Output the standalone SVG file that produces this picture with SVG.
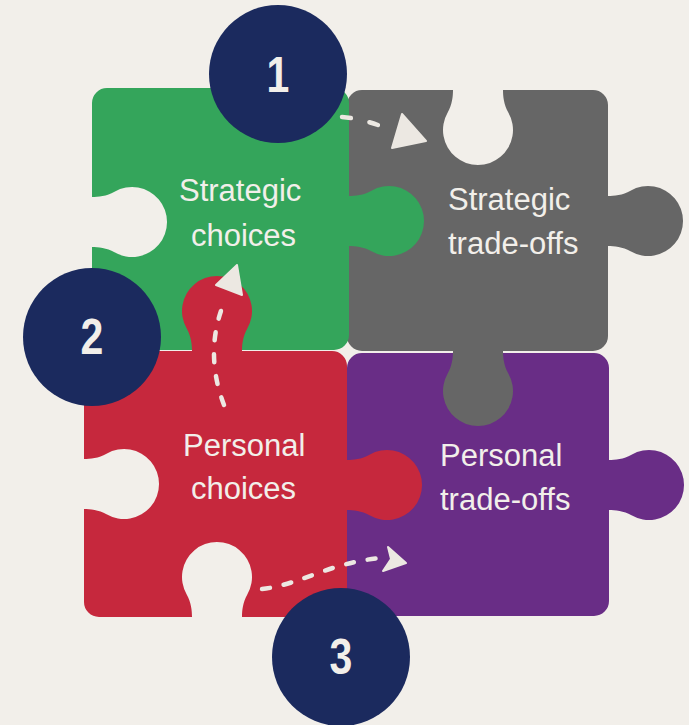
<svg xmlns="http://www.w3.org/2000/svg" width="689" height="725" viewBox="0 0 689 725">
<style>
.piece{stroke:none}
.lbl{font-family:"Liberation Sans",Arial,sans-serif;font-size:31px;fill:#f2efea}
.badge{fill:#1b2a5e}
.num{font-family:"Liberation Sans",Arial,sans-serif;font-weight:bold;font-size:50px;fill:#f2efea;text-anchor:middle}
.dash{fill:none;stroke:#ece8e2;stroke-width:4.5;stroke-linecap:round;stroke-dasharray:8 14}
.head{fill:#ece8e2;stroke:#ece8e2;stroke-width:2;stroke-linejoin:round}
</style>
<rect width="689" height="725" fill="#f2efea"/>
<g id="personal-tradeoffs">
<path class="piece" fill="#692d86" d="M362,353 H594 A15,15 0 0 1 609,368 V460 C615,460 623.7,459.2 631.5,454.7 A35,35 0 1 1 631.5,515.3 C623.7,510.8 615,510 609,510 V601 A15,15 0 0 1 594,616 H362 A15,15 0 0 1 347,601 V368 A15,15 0 0 1 362,353 Z"/>
<text class="lbl" x="440" y="466">Personal</text>
<text class="lbl" x="440" y="510">trade-offs</text>
</g>
<g id="strategic-tradeoffs">
<path class="piece" fill="#666666" d="M362,90 H453 C453,96 452.2,104.7 447.7,112.5 A35,35 0 1 0 508.3,112.5 C503.8,104.7 503,96 503,90 H593 A15,15 0 0 1 608,105 V196 C614,196 622.7,195.2 630.5,190.7 A35,35 0 1 1 630.5,251.3 C622.7,246.8 614,246 608,246 V336 A15,15 0 0 1 593,351 H503 C503,357 503.8,365.7 508.3,373.5 A35,35 0 1 1 447.7,373.5 C452.2,365.7 453,357 453,351 H362 A15,15 0 0 1 347,336 V105 A15,15 0 0 1 362,90 Z"/>
<text class="lbl" x="448" y="210">Strategic</text>
<text class="lbl" x="448" y="254">trade-offs</text>
</g>
<g id="strategic-choices">
<path class="piece" fill="#34a55b" d="M107,88 H334 A15,15 0 0 1 349,103 V196 C355,196 363.7,195.2 371.5,190.7 A35,35 0 1 1 371.5,251.3 C363.7,246.8 355,246 349,246 V335 A15,15 0 0 1 334,350 H107 A15,15 0 0 1 92,335 V247 C98,247 106.7,247.8 114.5,252.3 A35,35 0 1 0 114.5,191.7 C106.7,196.2 98,197 92,197 V103 A15,15 0 0 1 107,88 Z"/>
<text class="lbl" x="179" y="201">Strategic</text>
<text class="lbl" x="191" y="246">choices</text>
</g>
<g id="personal-choices">
<path class="piece" fill="#c6283d" d="M99,351 H192 C192,345 191.2,336.3 186.7,328.5 A35,35 0 1 1 247.3,328.5 C242.8,336.3 242,345 242,351 H332 A15,15 0 0 1 347,366 V460 C353,460 361.7,459.2 369.5,454.7 A35,35 0 1 1 369.5,515.3 C361.7,510.8 353,510 347,510 V602 A15,15 0 0 1 332,617 H242 C242,611 242.8,602.3 247.3,594.5 A35,35 0 1 0 186.7,594.5 C191.2,602.3 192,611 192,617 H99 A15,15 0 0 1 84,602 V509 C90,509 98.7,509.8 106.5,514.3 A35,35 0 1 0 106.5,453.7 C98.7,458.2 90,459 84,459 V366 A15,15 0 0 1 99,351 Z"/>
<text class="lbl" x="183" y="456">Personal</text>
<text class="lbl" x="191" y="499">choices</text>
</g>
<g id="connectors">
<path class="dash" style="stroke-dasharray:9 19" d="M342,117 Q365,119 388,129"/>
<polygon class="head" points="402,114 426,141 392,148"/>
<path class="dash" d="M224,405 Q203,350 226,298"/>
<polygon class="head" points="237,265 216,285 242,295"/>
<path class="dash" d="M262,589 C300,585 330,562 382,558"/>
<path class="head" d="M388,547 L406,563 L383,571 L391,559 Z"/>
</g>
<g id="badge-1">
<circle class="badge" cx="278" cy="74" r="69"/>
<text class="num" transform="translate(278,92) scale(0.82,1)">1</text>
</g>
<g id="badge-2">
<circle class="badge" cx="92" cy="337" r="69"/>
<text class="num" transform="translate(92,354) scale(0.82,1)">2</text>
</g>
<g id="badge-3">
<circle class="badge" cx="341" cy="657" r="69"/>
<text class="num" transform="translate(341,674) scale(0.82,1)">3</text>
</g>
</svg>
